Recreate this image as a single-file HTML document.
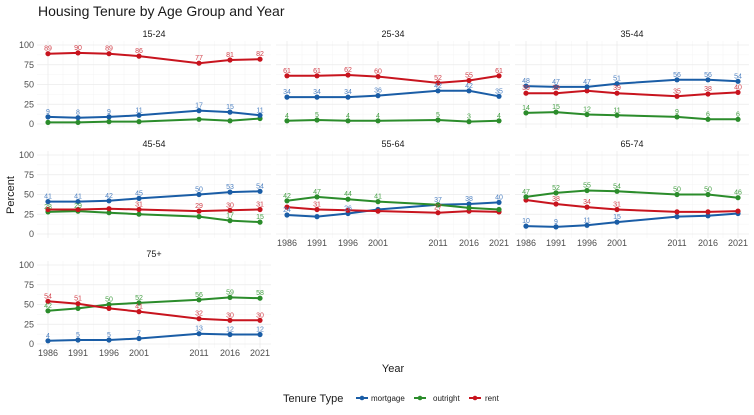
<!DOCTYPE html>
<html><head><meta charset="utf-8"><style>
body{margin:0;background:#fff}
svg{font-family:"Liberation Sans",sans-serif;display:block}
.g1{stroke:#ebebeb;stroke-width:0.8}
.g2{stroke:#f4f4f4;stroke-width:0.5}
.m{stroke:#1a5da6}.o{stroke:#2b8c2b}.r{stroke:#c8141e}
polyline{fill:none;stroke-width:2}
.lm{fill:#4f82c2}.lo{fill:#47a047}.lr{fill:#d2404a}
.lb text{font-size:7px;text-anchor:middle}
.yt{font-size:9px;fill:#4d4d4d;text-anchor:end}
.xt{font-size:9px;fill:#4d4d4d;text-anchor:middle}
.st{font-size:9px;fill:#1a1a1a;text-anchor:middle}
</style></head><body>
<svg width="754" height="415" viewBox="0 0 754 415">
<defs>
<g id="grid">
<line class="g2" x1="-11" x2="223" y1="-9.9" y2="-9.9"/><line class="g2" x1="-11" x2="223" y1="-29.6" y2="-29.6"/><line class="g2" x1="-11" x2="223" y1="-49.4" y2="-49.4"/><line class="g2" x1="-11" x2="223" y1="-69.1" y2="-69.1"/>
<line class="g2" x1="15" x2="15" y1="4" y2="-83"/><line class="g2" x1="45.5" x2="45.5" y1="4" y2="-83"/><line class="g2" x1="76" x2="76" y1="4" y2="-83"/><line class="g2" x1="121" x2="121" y1="4" y2="-83"/><line class="g2" x1="166.5" x2="166.5" y1="4" y2="-83"/><line class="g2" x1="197" x2="197" y1="4" y2="-83"/>
<line class="g1" x1="-11" x2="223" y1="0" y2="0"/><line class="g1" x1="-11" x2="223" y1="-19.75" y2="-19.75"/><line class="g1" x1="-11" x2="223" y1="-39.5" y2="-39.5"/><line class="g1" x1="-11" x2="223" y1="-59.25" y2="-59.25"/><line class="g1" x1="-11" x2="223" y1="-79" y2="-79"/>
<line class="g1" x1="0" x2="0" y1="4" y2="-83"/><line class="g1" x1="30" x2="30" y1="4" y2="-83"/><line class="g1" x1="61" x2="61" y1="4" y2="-83"/><line class="g1" x1="91" x2="91" y1="4" y2="-83"/><line class="g1" x1="151" x2="151" y1="4" y2="-83"/><line class="g1" x1="182" x2="182" y1="4" y2="-83"/><line class="g1" x1="212" x2="212" y1="4" y2="-83"/>
</g>
<marker id="cm" markerWidth="6" markerHeight="6" refX="3" refY="3" markerUnits="userSpaceOnUse"><circle cx="3" cy="3" r="2.6" fill="#1a5da6"/></marker>
<marker id="co" markerWidth="6" markerHeight="6" refX="3" refY="3" markerUnits="userSpaceOnUse"><circle cx="3" cy="3" r="2.6" fill="#2b8c2b"/></marker>
<marker id="cr" markerWidth="6" markerHeight="6" refX="3" refY="3" markerUnits="userSpaceOnUse"><circle cx="3" cy="3" r="2.6" fill="#c8141e"/></marker>
</defs>
<style>.m{marker:url(#cm)}.o{marker:url(#co)}.r{marker:url(#cr)}</style>

<text x="38" y="16" font-size="14" fill="#1a1a1a">Housing Tenure by Age Group and Year</text>
<text transform="translate(14,195) rotate(-90)" font-size="11" fill="#1a1a1a" text-anchor="middle">Percent</text>
<text x="393" y="372" font-size="11" fill="#1a1a1a" text-anchor="middle">Year</text>
<text x="283" y="402" font-size="11" fill="#1a1a1a">Tenure Type</text>
<line x1="356" x2="368" y1="398" y2="398" stroke="#1a5da6" stroke-width="2"/><circle cx="362" cy="398" r="2.3" fill="#1a5da6"/>
<text x="371" y="401" font-size="8" fill="#1a1a1a">mortgage</text>
<line x1="414" x2="426" y1="398" y2="398" stroke="#2b8c2b" stroke-width="2"/><circle cx="420" cy="398" r="2.3" fill="#2b8c2b"/>
<text x="433" y="401" font-size="8" fill="#1a1a1a">outright</text>
<line x1="469" x2="481" y1="398" y2="398" stroke="#c8141e" stroke-width="2"/><circle cx="475" cy="398" r="2.3" fill="#c8141e"/>
<text x="485" y="401" font-size="8" fill="#1a1a1a">rent</text>

<!-- 15-24 -->
<g transform="translate(48,124)">
<use href="#grid"/>
<text class="st" x="106" y="-87">15-24</text>
<text class="yt" x="-14" y="3">0</text><text class="yt" x="-14" y="-16.75">25</text><text class="yt" x="-14" y="-36.5">50</text><text class="yt" x="-14" y="-56.25">75</text><text class="yt" x="-14" y="-76">100</text>
<polyline class="o" points="0,-1.6 30,-1.6 61,-2.4 91,-2.4 151,-4.7 182,-3.2 212,-5.5"/>
<polyline class="m" points="0,-7.1 30,-6.3 61,-7.1 91,-8.7 151,-13.4 182,-11.9 212,-8.7"/>
<polyline class="r" points="0,-70.3 30,-71.1 61,-70.3 91,-67.9 151,-60.8 182,-64 212,-64.8"/>
<g class="lb"><g class="lr"><text x="0" y="-73.3">89</text><text x="30" y="-74.1">90</text><text x="61" y="-73.3">89</text><text x="91" y="-70.9">86</text><text x="151" y="-63.8">77</text><text x="182" y="-67">81</text><text x="212" y="-67.8">82</text></g>
<g class="lm"><text x="0" y="-10.1">9</text><text x="30" y="-9.3">8</text><text x="61" y="-10.1">9</text><text x="91" y="-11.7">11</text><text x="151" y="-16.4">17</text><text x="182" y="-14.9">15</text><text x="212" y="-11.7">11</text></g></g>
</g>

<!-- 25-34 -->
<g transform="translate(287,124)">
<use href="#grid"/>
<text class="st" x="106" y="-87">25-34</text>
<polyline class="o" points="0,-3.2 30,-4 61,-3.2 91,-3.2 151,-4 182,-2.4 212,-3.2"/>
<polyline class="m" points="0,-26.9 30,-26.9 61,-26.9 91,-28.4 151,-33.2 182,-33.2 212,-27.7"/>
<polyline class="r" points="0,-48.2 30,-48.2 61,-49 91,-47.4 151,-41.1 182,-43.5 212,-48.2"/>
<g class="lb"><g class="lr"><text x="0" y="-51.2">61</text><text x="30" y="-51.2">61</text><text x="61" y="-52">62</text><text x="91" y="-50.4">60</text><text x="151" y="-44.1">52</text><text x="182" y="-46.5">55</text><text x="212" y="-51.2">61</text></g>
<g class="lm"><text x="0" y="-29.9">34</text><text x="30" y="-29.9">34</text><text x="61" y="-29.9">34</text><text x="91" y="-31.4">36</text><text x="151" y="-36.2">42</text><text x="182" y="-36.2">42</text><text x="212" y="-30.7">35</text></g>
<g class="lo"><text x="0" y="-6.2">4</text><text x="30" y="-7">5</text><text x="61" y="-6.2">4</text><text x="91" y="-6.2">4</text><text x="151" y="-7">5</text><text x="182" y="-5.4">3</text><text x="212" y="-6.2">4</text></g></g>
</g>

<!-- 35-44 -->
<g transform="translate(526,124)">
<use href="#grid"/>
<text class="st" x="106" y="-87">35-44</text>
<polyline class="o" points="0,-11.1 30,-11.9 61,-9.5 91,-8.7 151,-7.1 182,-4.7 212,-4.7"/>
<polyline class="r" points="0,-30.8 30,-30.8 61,-33.2 91,-30.8 151,-27.7 182,-30 212,-31.6"/>
<polyline class="m" points="0,-37.9 30,-37.1 61,-37.1 91,-40.3 151,-44.2 182,-44.2 212,-42.7"/>
<g class="lb"><g class="lr"><text x="0" y="-33.8">39</text><text x="30" y="-33.8">39</text><text x="91" y="-33.8">39</text><text x="151" y="-30.7">35</text><text x="182" y="-33">38</text><text x="212" y="-34.6">40</text></g>
<g class="lm"><text x="0" y="-40.9">48</text><text x="30" y="-40.1">47</text><text x="61" y="-40.1">47</text><text x="91" y="-43.3">51</text><text x="151" y="-47.2">56</text><text x="182" y="-47.2">56</text><text x="212" y="-45.7">54</text></g>
<g class="lo"><text x="0" y="-14.1">14</text><text x="30" y="-14.9">15</text><text x="61" y="-12.5">12</text><text x="91" y="-11.7">11</text><text x="151" y="-10.1">9</text><text x="182" y="-7.7">6</text><text x="212" y="-7.7">6</text></g></g>
</g>

<!-- 45-54 -->
<g transform="translate(48,234)">
<use href="#grid"/>
<text class="st" x="106" y="-87">45-54</text>
<text class="yt" x="-14" y="3">0</text><text class="yt" x="-14" y="-16.75">25</text><text class="yt" x="-14" y="-36.5">50</text><text class="yt" x="-14" y="-56.25">75</text><text class="yt" x="-14" y="-76">100</text>
<polyline class="o" points="0,-22.1 30,-22.9 61,-21.3 91,-19.8 151,-17.4 182,-13.4 212,-11.9"/>
<polyline class="r" points="0,-24.5 30,-24.5 61,-25.3 91,-24.5 151,-22.9 182,-23.7 212,-24.5"/>
<polyline class="m" points="0,-32.4 30,-32.4 61,-33.2 91,-35.6 151,-39.5 182,-41.9 212,-42.7"/>
<g class="lb"><g class="lr"><text x="91" y="-27.5">31</text><text x="151" y="-25.9">29</text><text x="182" y="-26.7">30</text><text x="212" y="-27.5">31</text></g>
<g class="lo"><text x="0" y="-25.1">28</text><text x="30" y="-25.9">29</text><text x="182" y="-16.4">17</text><text x="212" y="-14.9">15</text></g>
<g class="lm"><text x="0" y="-35.4">41</text><text x="30" y="-35.4">41</text><text x="61" y="-36.2">42</text><text x="91" y="-38.6">45</text><text x="151" y="-42.5">50</text><text x="182" y="-44.9">53</text><text x="212" y="-45.7">54</text></g></g>
</g>

<!-- 55-64 -->
<g transform="translate(287,234)">
<use href="#grid"/>
<text class="st" x="106" y="-87">55-64</text>
<text class="xt" x="0" y="12">1986</text><text class="xt" x="30" y="12">1991</text><text class="xt" x="61" y="12">1996</text><text class="xt" x="91" y="12">2001</text><text class="xt" x="151" y="12">2011</text><text class="xt" x="182" y="12">2016</text><text class="xt" x="212" y="12">2021</text>
<polyline class="m" points="0,-19 30,-17.4 61,-20.5 91,-24.5 151,-29.2 182,-30 212,-31.6"/>
<polyline class="r" points="0,-26.9 30,-24.5 61,-23.7 91,-22.9 151,-21.3 182,-22.9 212,-22.1"/>
<polyline class="o" points="0,-33.2 30,-37.1 61,-34.8 91,-32.4 151,-29.2 182,-26.1 212,-24.5"/>
<g class="lb"><g class="lo"><text x="0" y="-36.2">42</text><text x="30" y="-40.1">47</text><text x="61" y="-37.8">44</text><text x="91" y="-35.4">41</text></g>
<g class="lr"><text x="30" y="-27.5">31</text><text x="151" y="-24.3">27</text></g>
<g class="lm"><text x="0" y="-22">24</text><text x="61" y="-23.5">26</text><text x="151" y="-32.2">37</text><text x="182" y="-33">38</text><text x="212" y="-34.6">40</text></g></g>
</g>

<!-- 65-74 -->
<g transform="translate(526,234)">
<use href="#grid"/>
<text class="st" x="106" y="-87">65-74</text>
<text class="xt" x="0" y="12">1986</text><text class="xt" x="30" y="12">1991</text><text class="xt" x="61" y="12">1996</text><text class="xt" x="91" y="12">2001</text><text class="xt" x="151" y="12">2011</text><text class="xt" x="182" y="12">2016</text><text class="xt" x="212" y="12">2021</text>
<polyline class="m" points="0,-7.9 30,-7.1 61,-8.7 91,-11.9 151,-17.4 182,-18.2 212,-20.5"/>
<polyline class="r" points="0,-34 30,-30 61,-26.9 91,-24.5 151,-22.1 182,-22.1 212,-22.9"/>
<polyline class="o" points="0,-37.1 30,-41.1 61,-43.5 91,-42.7 151,-39.5 182,-39.5 212,-36.3"/>
<g class="lb"><g class="lo"><text x="0" y="-40.1">47</text><text x="30" y="-44.1">52</text><text x="61" y="-46.5">55</text><text x="91" y="-45.7">54</text><text x="151" y="-42.5">50</text><text x="182" y="-42.5">50</text><text x="212" y="-39.3">46</text></g>
<g class="lr"><text x="30" y="-33">38</text><text x="61" y="-29.9">34</text><text x="91" y="-27.5">31</text></g>
<g class="lm"><text x="0" y="-10.9">10</text><text x="30" y="-10.1">9</text><text x="61" y="-11.7">11</text><text x="91" y="-14.9">15</text></g></g>
</g>

<!-- 75+ -->
<g transform="translate(48,344)">
<use href="#grid"/>
<text class="st" x="106" y="-87">75+</text>
<text class="yt" x="-14" y="3">0</text><text class="yt" x="-14" y="-16.75">25</text><text class="yt" x="-14" y="-36.5">50</text><text class="yt" x="-14" y="-56.25">75</text><text class="yt" x="-14" y="-76">100</text>
<text class="xt" x="0" y="12">1986</text><text class="xt" x="30" y="12">1991</text><text class="xt" x="61" y="12">1996</text><text class="xt" x="91" y="12">2001</text><text class="xt" x="151" y="12">2011</text><text class="xt" x="182" y="12">2016</text><text class="xt" x="212" y="12">2021</text>
<polyline class="m" points="0,-3.2 30,-4 61,-4 91,-5.5 151,-10.3 182,-9.5 212,-9.5"/>
<polyline class="o" points="0,-33.2 30,-35.6 61,-39.5 91,-41.1 151,-44.2 182,-46.6 212,-45.8"/>
<polyline class="r" points="0,-42.7 30,-40.3 61,-35.6 91,-32.4 151,-25.3 182,-23.7 212,-23.7"/>
<g class="lb"><g class="lr"><text x="0" y="-45.7">54</text><text x="30" y="-43.3">51</text><text x="91" y="-35.4">41</text><text x="151" y="-28.3">32</text><text x="182" y="-26.7">30</text><text x="212" y="-26.7">30</text></g>
<g class="lo"><text x="0" y="-36.2">42</text><text x="61" y="-42.5">50</text><text x="91" y="-44.1">52</text><text x="151" y="-47.2">56</text><text x="182" y="-49.6">59</text><text x="212" y="-48.8">58</text></g>
<g class="lm"><text x="0" y="-6.2">4</text><text x="30" y="-7">5</text><text x="61" y="-7">5</text><text x="91" y="-8.5">7</text><text x="151" y="-13.3">13</text><text x="182" y="-12.5">12</text><text x="212" y="-12.5">12</text></g></g>
</g>
</svg>
</body></html>
